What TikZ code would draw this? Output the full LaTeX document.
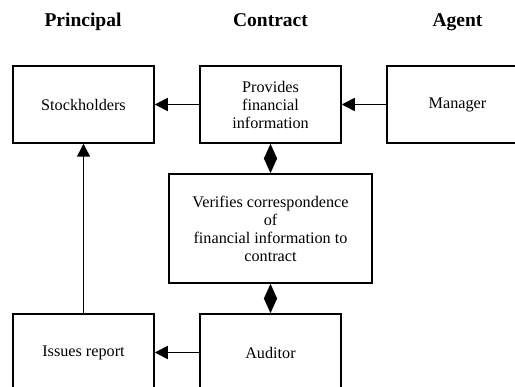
\documentclass[tikz,border=0pt]{standalone}
\usepackage{fontspec}
\setmainfont{Liberation Serif}
\usetikzlibrary{arrows.meta}
\begin{document}
\begin{tikzpicture}[x=1pt,y=-1pt,
  box/.style={draw,line width=1.5pt,inner sep=0pt,align=center,
    font=\fontsize{16.2}{18}\selectfont},
  head/.style={anchor=base,font=\fontsize{19.5}{22}\selectfont\bfseries},
  conn/.style={line width=1.5pt,-{Triangle[length=13pt,width=13pt]}},
  dbl/.style={line width=1.5pt,{Triangle[length=15pt,width=13pt]}-{Triangle[length=15pt,width=13pt]}}]
\useasboundingbox (0,0) rectangle (515,387);
\begin{scope}
\clip (0,0) rectangle (515,387);
\node[head] (hp) at (83,27) {Principal};
\node[head] (hc) at (270.5,27) {Contract};
\node[head] (ha) at (457.5,27) {Agent};
\node[box,minimum width=141pt,minimum height=77pt] (stock) at (83.5,104.5) {Stockholders};
\node[box,minimum width=141pt,minimum height=77pt] (prov) at (270.5,104.5) {Provides\\financial\\information};
\node[box,minimum width=141pt,minimum height=77pt] (man) at (457.5,104.5) {Manager};
\node[box,minimum width=203pt,minimum height=109pt] (ver) at (270.5,228.5) {Verifies correspondence\\of\\financial information to\\contract};
\node[box,minimum width=141pt,minimum height=77pt] (iss) at (83.5,352.5) {Issues report};
\node[box,minimum width=141pt,minimum height=77pt] (aud) at (270.5,352.5) {Auditor};
\draw[conn] (prov.west) -- (stock.east);
\draw[conn] (man.west) -- (prov.east);
\draw[dbl] (prov.south) -- (ver.north);
\draw[dbl] (ver.south) -- (aud.north);
\draw[conn] (aud.west) -- (iss.east);
\draw[conn] (iss.north) -- (stock.south);
\end{scope}
\end{tikzpicture}
\end{document}
